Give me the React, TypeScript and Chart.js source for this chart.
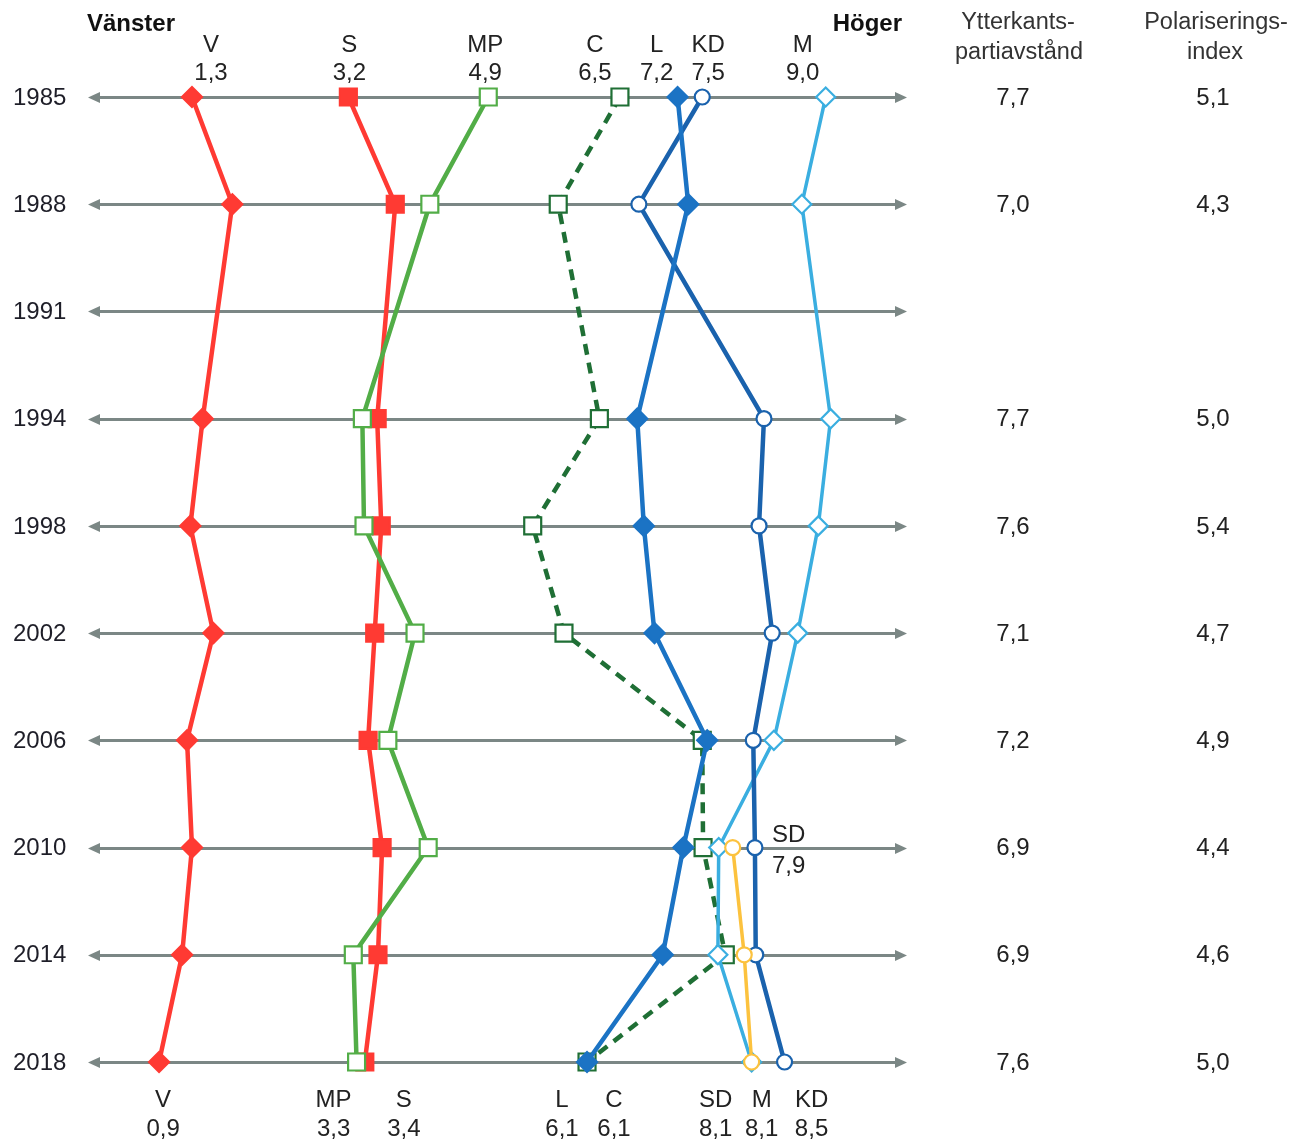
import React, { useEffect, useRef } from 'react';
import { Chart, registerables } from 'chart.js';

Chart.register(...registerables);

// ---------- data ----------
const years = ['1985', '1988', '1991', '1994', '1998', '2002', '2006', '2010', '2014', '2018'];
const partyV = [1.3, 1.79, null, 1.43, 1.28, 1.56, 1.24, 1.3, 1.18, 0.9];
const partyS = [3.2, 3.77, null, 3.55, 3.6, 3.52, 3.44, 3.61, 3.56, 3.4];
const partyMP = [4.9, 4.19, null, 3.37, 3.39, 4.01, 3.68, 4.17, 3.26, 3.3];
const partyC = [6.5, 5.75, null, 6.25, 5.44, 5.82, 7.5, 7.51, 7.78, 6.1];
const partyL = [7.2, 7.33, null, 6.71, 6.79, 6.92, 7.56, 7.27, 7.02, 6.1];
const partyKD = [7.5, 6.73, null, 8.25, 8.19, 8.35, 8.12, 8.14, 8.15, 8.5];
const partyM = [9.0, 8.71, null, 9.06, 8.91, 8.66, 8.37, 7.7, 7.69, 8.1];
const partySD = [null, null, null, null, null, null, null, 7.87, 8.01, 8.1];
const ytterkantsavstand = ['7,7', '7,0', '', '7,7', '7,6', '7,1', '7,2', '6,9', '6,9', '7,6'];
const polariseringsindex = ['5,1', '4,3', '', '5,0', '5,4', '4,7', '4,9', '4,4', '4,6', '5,0'];

// ---------- styles ----------
const FONT = '"Liberation Sans", Arial, sans-serif';
const ARROW = '#7b8785';
const RED = '#ff3a33';
const GREEN = '#52ad47';
const DKGREEN = '#1f6f35';
const BLUE = '#1b73c4';
const DKBLUE = '#1a62ad';
const LTBLUE = '#3aaee0';
const YELLOW = '#fcc23e';

const topShift: Record<string, number> = { V: 19, S: 1, MP: -3, C: -25, L: -21, KD: 6, M: -23 };
const bottomShift: Record<string, number> = { V: 4, MP: -23, S: 39, L: -25, C: 27, SD: -36, M: 10, KD: 27 };

const fmt = (v: number) => v.toFixed(1).replace('.', ',');

function ds(label: string, data: (number | null)[], color: string, pointStyle: string, radius: number, filled: boolean, width: number, dash: number[] = []) {
  return {
    label,
    data,
    borderColor: color,
    backgroundColor: color,
    borderWidth: width,
    borderDash: dash,
    pointStyle,
    pointRadius: radius,
    pointHoverRadius: radius,
    pointBorderWidth: 2.2,
    pointBorderColor: color,
    pointBackgroundColor: filled ? color : '#ffffff',
    spanGaps: true,
    tension: 0,
    clip: false as const,
  };
}

// first dataset drawn on top
const datasets = [
  ds('V', partyV, RED, 'rectRot', 10, true, 4.5),
  ds('MP', partyMP, GREEN, 'rect', 12, false, 4.5),
  ds('S', partyS, RED, 'rect', 12, true, 4.5),
  ds('SD', partySD, YELLOW, 'circle', 7.5, false, 3.5),
  ds('L', partyL, BLUE, 'rectRot', 10, true, 4.5),
  ds('KD', partyKD, DKBLUE, 'circle', 7.5, false, 4.5),
  ds('M', partyM, LTBLUE, 'rectRot', 9.5, false, 3.5),
  ds('C', partyC, DKGREEN, 'rect', 12, false, 4.5, [11, 8]),
];

const overlay = {
  id: 'overlay',
  beforeDatasetsDraw(chart: any) {
    const { ctx, chartArea, scales } = chart;
    ctx.save();
    ctx.strokeStyle = ARROW;
    ctx.fillStyle = ARROW;
    ctx.lineWidth = 3;
    years.forEach((_, i) => {
      const y = Math.round(scales.y.getPixelForValue(i)) + 0.5;
      const xl = chartArea.left + 3;
      const xr = chartArea.right - 1;
      ctx.beginPath();
      ctx.moveTo(xl + 8, y);
      ctx.lineTo(xr - 8, y);
      ctx.stroke();
      ctx.beginPath();
      ctx.moveTo(xl, y);
      ctx.lineTo(xl + 12, y - 5.5);
      ctx.lineTo(xl + 12, y + 5.5);
      ctx.closePath();
      ctx.fill();
      ctx.beginPath();
      ctx.moveTo(xr, y);
      ctx.lineTo(xr - 12, y - 5.5);
      ctx.lineTo(xr - 12, y + 5.5);
      ctx.closePath();
      ctx.fill();
    });
    ctx.restore();
  },
  afterDraw(chart: any) {
    const { ctx, chartArea, scales } = chart;
    const x = scales.x;
    const yS = scales.y;
    ctx.save();
    ctx.textBaseline = 'middle';

    // Year labels
    ctx.fillStyle = '#1e1e28';
    ctx.font = `24px ${FONT}`;
    ctx.textAlign = 'left';
    years.forEach((yr, i) => ctx.fillText(yr, 13, yS.getPixelForValue(i) + 1));

    // Vänster / Höger
    ctx.fillStyle = '#111';
    ctx.font = `bold 24px ${FONT}`;
    ctx.textAlign = 'left';
    ctx.fillText('Vänster', chartArea.left + 2, 24);
    ctx.textAlign = 'right';
    ctx.fillText('Höger', chartArea.right - 6, 24);

    // Party labels
    ctx.fillStyle = '#222';
    ctx.font = `24px ${FONT}`;
    ctx.textAlign = 'center';
    const last = years.length - 1;
    datasets.forEach((d) => {
      const v0 = d.data[0];
      if (v0 != null && topShift[d.label] != null) {
        const px = x.getPixelForValue(v0) + topShift[d.label];
        ctx.fillText(d.label, px, 45);
        ctx.fillText(fmt(v0), px, 73);
      }
      const vN = d.data[last];
      if (vN != null && bottomShift[d.label] != null) {
        const px = x.getPixelForValue(vN) + bottomShift[d.label];
        ctx.fillText(d.label, px, 1100);
        ctx.fillText(fmt(vN), px, 1129);
      }
    });
    // SD first appearance
    const sdIdx = partySD.findIndex((v) => v != null);
    if (sdIdx >= 0) {
      const v = partySD[sdIdx] as number;
      const px = x.getPixelForValue(v) + 56;
      const py = yS.getPixelForValue(sdIdx);
      ctx.fillText('SD', px, py - 12);
      ctx.fillText(fmt(v), px, py + 19);
    }

    // Right-hand columns
    ctx.fillStyle = '#333';
    ctx.font = `23.5px ${FONT}`;
    ctx.fillText('Ytterkants-', 1018, 23);
    ctx.fillText('partiavstånd', 1019, 53);
    ctx.fillText('Polariserings-', 1216, 23);
    ctx.fillText('index', 1215, 53);
    ctx.fillStyle = '#222';
    ctx.font = `24px ${FONT}`;
    years.forEach((_, i) => {
      const py = yS.getPixelForValue(i) + 1;
      if (ytterkantsavstand[i]) ctx.fillText(ytterkantsavstand[i], 1013, py);
      if (polariseringsindex[i]) ctx.fillText(polariseringsindex[i], 1213, py);
    });
    ctx.restore();
  },
};

export default function App() {
  const ref = useRef<HTMLCanvasElement>(null);
  useEffect(() => {
    document.body.style.margin = '0';
    const chart = new Chart(ref.current as HTMLCanvasElement, {
      type: 'line',
      data: { labels: years, datasets: datasets as any },
      options: {
        indexAxis: 'y',
        responsive: false,
        animation: false,
        devicePixelRatio: 1,
        layout: { padding: { left: 85, right: 386, top: 97, bottom: 82 } },
        scales: {
          x: { type: 'linear', min: 0, max: 10, display: false },
          y: { type: 'category', display: false, offset: false },
        },
        plugins: { legend: { display: false }, tooltip: { enabled: false } },
        events: [],
      } as any,
      plugins: [overlay],
    });
    return () => chart.destroy();
  }, []);
  return <canvas ref={ref} width={1294} height={1144} style={{ display: 'block' }} />;
}
